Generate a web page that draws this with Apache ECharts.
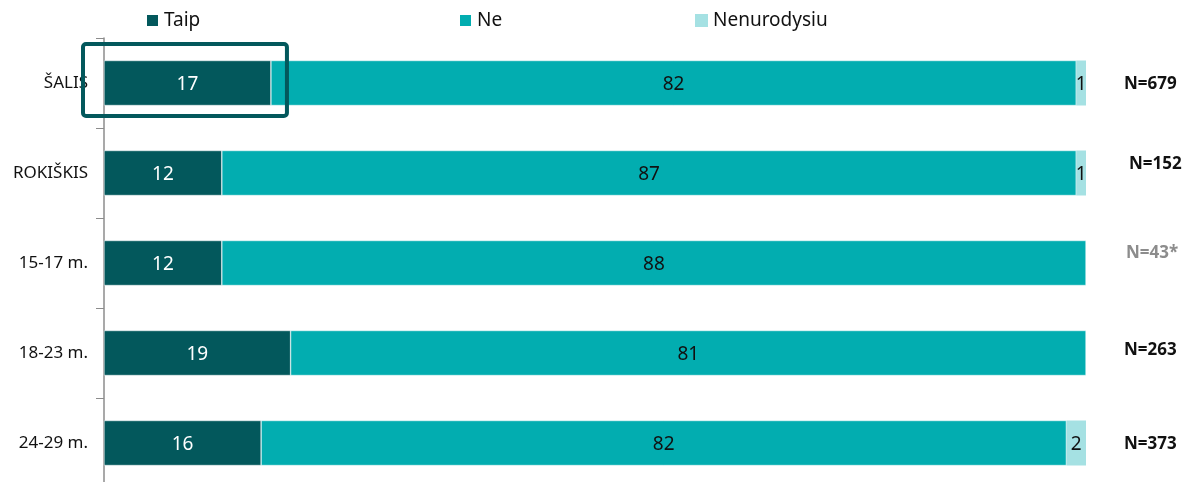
<!DOCTYPE html>
<html>
<head>
<meta charset="utf-8">
<script src="https://cdn.jsdelivr.net/npm/echarts@6/dist/echarts.min.js"></script>
<style>
  html, body { margin: 0; padding: 0; background: #fff; }
  #chart { width: 1187px; height: 482px; }
</style>
</head>
<body>
<div id="chart"></div>
<script>
// duomenys
var categories = ['ŠALIS', 'ROKIŠKIS', '15-17 m.', '18-23 m.', '24-29 m.'];
var taip = [17, 12, 12, 19, 16];
var ne = [82, 87, 88, 81, 82];
var nenurodysiu = [1, 1, 0, 0, 2];
var nLabels = ['N=679', 'N=152', 'N=43*', 'N=263', 'N=373'];

var FONT = '"Noto Sans", "Open Sans", sans-serif';
var colTaip = '#03585c';
var colNe = '#02adb0';
var colNen = '#a5e1e3';

var chart = echarts.init(document.getElementById('chart'));

function barLabel(color) {
  return {
    show: true,
    position: 'inside',
    offset: [0, 2],
    color: color,
    fontFamily: FONT,
    fontSize: 19,
    formatter: function (p) { return p.value > 0 ? p.value : ''; }
  };
}

var legendBase = {
  top: 11,
  padding: 0,
  itemWidth: 13,
  itemHeight: 13,
  icon: 'rect',
  textStyle: { fontFamily: FONT, fontSize: 19, color: '#111' }
};

var option = {
  animation: false,
  legend: [
    Object.assign({ left: 145, data: ['Taip'] }, legendBase),
    Object.assign({ left: 458, data: ['Ne'] }, legendBase),
    Object.assign({ left: 695, data: ['Nenurodysiu'] }, legendBase)
  ],
  grid: { left: 104, right: 101, top: 38, height: 450, outerBoundsMode: 'none' },
  xAxis: {
    type: 'value',
    min: 0,
    max: 100,
    show: false
  },
  yAxis: [
    {
      type: 'category',
      data: categories,
      inverse: true,
      axisLine: { lineStyle: { color: '#8c8c8c', width: 1.5 } },
      axisTick: { show: true, length: 8, lineStyle: { color: '#8c8c8c' } },
      axisLabel: { color: '#111', fontFamily: FONT, fontSize: 17, margin: 16, padding: [4, 0, 0, 0] }
    },
    {
      type: 'category',
      data: categories,
      inverse: true,
      position: 'right',
      axisLine: { show: false },
      axisTick: { show: false },
      axisLabel: {
        align: 'left',
        margin: 38,
        formatter: function (v, i) {
          var s = 'b';
          if (i === 1) s = 'up';
          if (i === 2) s = 'g';
          if (i === 3) s = 'mid';
          return '{' + s + '|' + nLabels[i] + '}';
        },
        rich: {
          b: { fontFamily: FONT, fontSize: 17, fontWeight: 'bold', color: '#111', padding: [3, 0, 0, 0] },
          up: { fontFamily: FONT, fontSize: 17, fontWeight: 'bold', color: '#111', padding: [0, 0, 17, 5] },
          g: { fontFamily: FONT, fontSize: 17, fontWeight: 'bold', color: '#8c8c8c', padding: [0, 0, 20, 2] },
          mid: { fontFamily: FONT, fontSize: 17, fontWeight: 'bold', color: '#111', padding: [0, 0, 6, 0] }
        }
      }
    }
  ],
  series: [
    {
      name: 'Taip', type: 'bar', stack: 'a', barWidth: '50%',
      itemStyle: { color: colTaip, borderColor: '#fff', borderWidth: 0.5 },
      label: barLabel('#fff'),
      data: taip
    },
    {
      name: 'Ne', type: 'bar', stack: 'a', barWidth: '50%',
      itemStyle: { color: colNe, borderColor: '#fff', borderWidth: 0.5 },
      label: barLabel('#111'),
      data: ne
    },
    {
      name: 'Nenurodysiu', type: 'bar', stack: 'a', barWidth: '50%',
      itemStyle: { color: colNen },
      label: barLabel('#111'),
      data: nenurodysiu
    }
  ]
};

chart.setOption(option);

// paryškinimo rėmelis aplink ŠALIS "Taip"
var p0 = chart.convertToPixel({ xAxisIndex: 0, yAxisIndex: 0 }, [0, 0]);
var p1 = chart.convertToPixel({ xAxisIndex: 0, yAxisIndex: 0 }, [taip[0], 0]);
chart.setOption({
  graphic: [{
    type: 'rect',
    shape: { x: p0[0] - 21, y: p0[1] - 39, width: p1[0] - p0[0] + 37, height: 72, r: 3 },
    style: { fill: 'none', stroke: colTaip, lineWidth: 4 },
    z: 100
  }]
});
</script>
</body>
</html>
